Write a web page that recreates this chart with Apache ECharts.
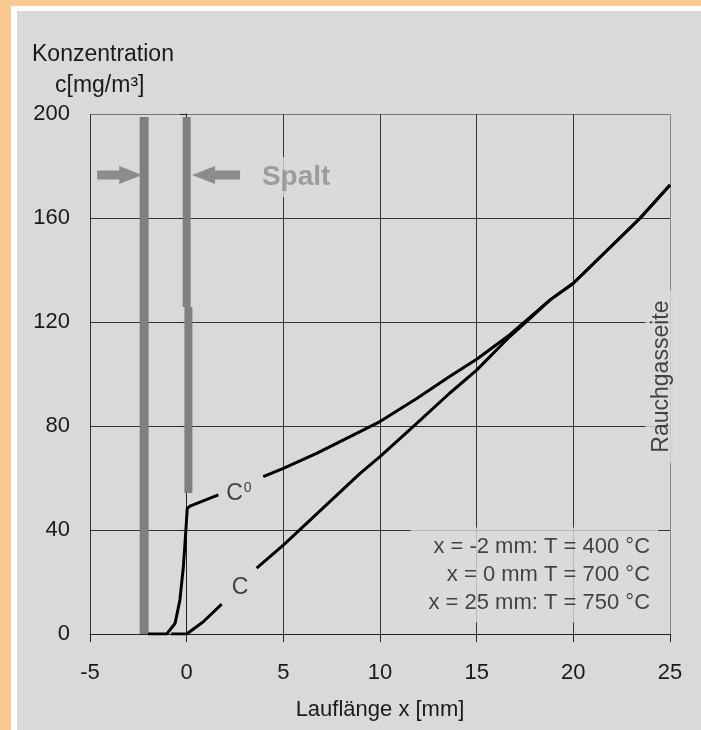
<!DOCTYPE html>
<html><head><meta charset="utf-8">
<script src="https://cdn.jsdelivr.net/npm/echarts@6/dist/echarts.min.js"></script>
<style>html,body{margin:0;padding:0;background:#d9d9d9;}#c{width:701px;height:730px;}</style>
</head><body><div id="c"></div>
<script>
// ---- data ----
const xTicks = [-5, 0, 5, 10, 15, 20, 25];
const yTicks = [0, 40, 80, 120, 160, 200];
const c0Curve = [[-2.0,0],[-1.03,0],[-0.6,4.1],[-0.35,13.1],[-0.17,25.9],[-0.04,40],[0.03,48.3],[0.17,49.2],[1.64,53.5],'-',
  [3.96,60.5],[5.0,63.7],[6.72,69.5],[8.45,75.9],[10.0,81.7],[11.9,90.6],[13.6,99.0],[15.0,105.7],[16.7,115],[17.9,122.7],[18.8,128.5],[20,134.9],[23.45,159.9],[25,172.7]];
const cCurve = [[-0.8,0],[0.0,0],[0.08,0.5],[0.86,4.7],[1.81,11.5],'-',
  [3.62,25.3],[5.0,34.2],[8.97,61.8],[10.0,68.2],[11.9,81],[13.6,92.6],[15.0,101.5],[16.7,114.3],[17.76,121.4],[18.8,128.5],[20,134.9],[23.45,159.9],[25,172.7]];
const gapWallLeft = [[-2.2,0],[-2.2,198.8]];
const gapWallRightUpper = [[0,125.8],[0,198.8]];
const gapWallRightLower = [[0.09,54.2],[0.09,125.8]];
const gapArrows = [[-4.63,-2.3,176.5],[2.76,0.28,176.5]];
const infoLines = ['x = -2 mm: T = 400 °C', 'x = 0 mm T = 700 °C', 'x = 25 mm: T = 750 °C'];
const yTitle = ['Konzentration', 'c[mg/m³]'];
const xTitle = 'Lauflänge x [mm]';
const sideLabel = 'Rauchgasseite';
const gapLabel = 'Spalt';

// ---- chart ----
const FONT = 'Liberation Sans, Arial, sans-serif';
const BG = '#d9d9d9';
const chart = echarts.init(document.getElementById('c'), null, {renderer: 'canvas'});

function annot(pt, label) {
  return {type: 'scatter', data: [pt], symbolSize: 0, silent: true, z: 5,
    label: Object.assign({show: true, fontFamily: FONT, color: '#1a1a1a'}, label)};
}

const option = {
  backgroundColor: BG,
  animation: false,
  graphic: [
    {type: 'rect', shape: {x: 0, y: 0, width: 701, height: 6}, style: {fill: '#f9c98f'}, z: -10},
    {type: 'rect', shape: {x: 0, y: 0, width: 11, height: 730}, style: {fill: '#f9c98f'}, z: -10},
    {type: 'rect', shape: {x: 11, y: 6, width: 690, height: 5}, style: {fill: '#ffffff'}, z: -9},
    {type: 'rect', shape: {x: 11, y: 6, width: 6, height: 724}, style: {fill: '#ffffff'}, z: -9},
    {type: 'text', left: 32, top: 43, style: {text: yTitle[0], font: '23px ' + FONT, fill: '#1a1a1a'}},
    {type: 'text', left: 55, top: 74, style: {text: yTitle[1], font: '23px ' + FONT, fill: '#1a1a1a'}}
  ],
  grid: {left: 90, right: 31, top: 114, bottom: 96},
  xAxis: {
    type: 'value', min: xTicks[0], max: xTicks[xTicks.length - 1], interval: 5,
    name: xTitle, nameLocation: 'middle', nameGap: 65,
    nameTextStyle: {fontFamily: FONT, fontSize: 22, color: '#1a1a1a'},
    axisLine: {show: true, lineStyle: {color: '#222', width: 1}},
    axisTick: {show: true, length: 8, lineStyle: {color: '#222'}},
    axisLabel: {fontFamily: FONT, fontSize: 22, color: '#1a1a1a', margin: 28},
    splitLine: {show: true, lineStyle: {color: ['#333', '#333', '#333', '#333', '#333', '#333', '#888'], width: 1}}
  },
  yAxis: {
    type: 'value', min: yTicks[0], max: yTicks[yTicks.length - 1], interval: 40,
    axisLine: {show: true, lineStyle: {color: '#222', width: 1}},
    axisTick: {show: true, length: 7, lineStyle: {color: '#222'}},
    axisLabel: {fontFamily: FONT, fontSize: 22, color: '#1a1a1a', margin: 20},
    splitLine: {show: true, lineStyle: {color: ['#333', '#333', '#333', '#333', '#333', '#777'], width: 1}}
  },
  series: [
    {type: 'line', data: gapWallLeft, showSymbol: false, silent: true, z: 2, lineStyle: {color: '#7f7f7f', width: 9}},
    {type: 'line', data: gapWallRightUpper, showSymbol: false, silent: true, z: 2, lineStyle: {color: '#7f7f7f', width: 8}},
    {type: 'line', data: gapWallRightLower, showSymbol: false, silent: true, z: 2, lineStyle: {color: '#7f7f7f', width: 8}},
    {type: 'custom', data: gapArrows, silent: true, z: 3,
      renderItem: function (params, api) {
        const tail = api.coord([api.value(0), api.value(2)]);
        const tip = api.coord([api.value(1), api.value(2)]);
        const d = tip[0] > tail[0] ? 1 : -1;
        const headLen = 23, sh = 4.5, hh = 9;
        const hx = tip[0] - d * headLen, y = tip[1];
        return {type: 'polygon', shape: {points: [
          [tail[0], y - sh], [hx, y - sh], [hx, y - hh], [tip[0], y], [hx, y + hh], [hx, y + sh], [tail[0], y + sh]
        ]}, style: {fill: '#8c8c8c'}};
      }},
    {type: 'line', name: 'C0', data: c0Curve, showSymbol: false, connectNulls: false, z: 4, lineStyle: {color: '#000', width: 3}},
    {type: 'line', name: 'C', data: cCurve, showSymbol: false, connectNulls: false, z: 4, lineStyle: {color: '#000', width: 3}},
    annot([3.53, 175.8], {position: 'right', distance: 0, formatter: gapLabel, fontSize: 28, fontWeight: 'bold',
      color: '#8c8c8c', backgroundColor: BG, padding: [6, 8, 6, 7]}),
    annot([24.38, 22.7], {position: 'left', distance: 0, formatter: infoLines.join('\n'), fontSize: 22, lineHeight: 28,
      align: 'right', backgroundColor: BG, padding: [5, 8, 6, 18]}),
    annot([24.57, 99], {position: 'inside', rotate: 90, formatter: sideLabel, fontSize: 23,
      backgroundColor: BG, padding: [5, 10, 5, 10]}),
    annot([2.7, 53.8], {position: 'inside', formatter: '{a|C}{b|0}',
      rich: {a: {fontSize: 23, fontFamily: FONT, color: '#1a1a1a'}, b: {fontSize: 14, fontFamily: FONT, color: '#1a1a1a', padding: [0, 0, 12, 1]}}}),
    annot([2.76, 18], {position: 'inside', formatter: 'C', fontSize: 23})
  ]
};
chart.setOption(option);
</script></body></html>
